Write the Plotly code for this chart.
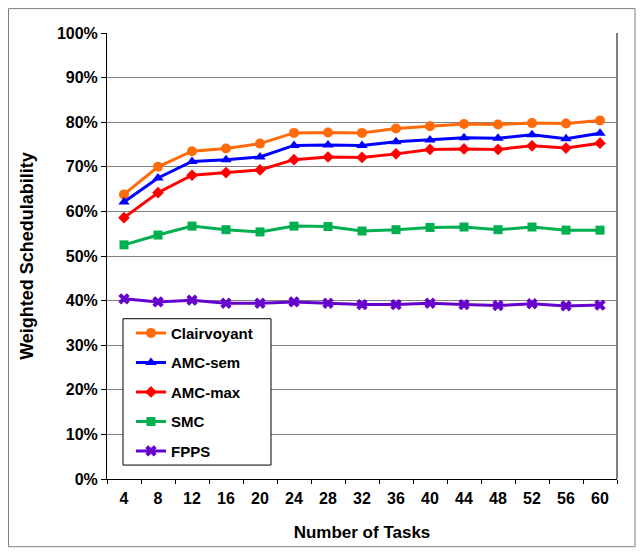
import plotly.graph_objects as go

tasks = ["4", "8", "12", "16", "20", "24", "28", "32", "36", "40", "44", "48", "52", "56", "60"]
clairvoyant = [63.8, 70.0, 73.5, 74.1, 75.2, 77.6, 77.7, 77.6, 78.6, 79.1, 79.6, 79.5, 79.8, 79.7, 80.4]
amc_sem = [62.1, 67.5, 71.2, 71.6, 72.2, 74.8, 74.9, 74.8, 75.6, 76.0, 76.5, 76.4, 77.2, 76.3, 77.5]
amc_max = [58.6, 64.2, 68.1, 68.7, 69.3, 71.6, 72.2, 72.1, 72.9, 73.9, 74.0, 73.9, 74.7, 74.2, 75.3]
smc = [52.5, 54.7, 56.7, 55.9, 55.4, 56.7, 56.6, 55.6, 55.9, 56.4, 56.5, 55.9, 56.5, 55.8, 55.8]
fpps = [40.4, 39.7, 40.1, 39.4, 39.4, 39.7, 39.4, 39.1, 39.1, 39.4, 39.1, 38.9, 39.3, 38.8, 39.0]
y_ticks = list(range(0, 101, 10))

series = [
    ("Clairvoyant", clairvoyant, "#FF6A0A", "circle", 10),
    ("AMC-sem", amc_sem, "#0000FF", "triangle-up", 10),
    ("AMC-max", amc_max, "#FF0000", "diamond", 9),
    ("SMC", smc, "#00B050", "square", 9),
    ("FPPS", fpps, "#6600CC", "x", 10),
]

fig = go.Figure()
for name, vals, color, sym, size in series:
    fig.add_trace(go.Scatter(
        x=tasks, y=vals, name=f"<b>{name}</b>", mode="lines+markers",
        line=dict(color=color, width=3),
        marker=dict(symbol=sym, size=size, color=color),
        legendgroup=name,
    ))

font = "Liberation Sans, Arial, sans-serif"
# page has an 8px body margin; figure kept inside the 644x558 window
W, H = 628, 542
L, T = 99, 25
PW, PH = 510, 448
fig.update_layout(
    width=W, height=H,
    margin=dict(l=L, r=W - L - PW, t=T, b=H - T - PH),
    paper_bgcolor="white", plot_bgcolor="white",
    font=dict(family=font, size=16, color="black"),
    showlegend=True,
    legend=dict(
        x=0.047, y=0.364, xanchor="left", yanchor="top",
        bgcolor="rgba(0,0,0,0)", borderwidth=0,
        font=dict(family=font, size=15, color="black"),
        traceorder="grouped", tracegroupgap=7,
        itemwidth=30,
    ),
    xaxis=dict(
        type="category", tickson="boundaries", range=[-0.5, len(tasks) - 0.5],
        tickvals=tasks, ticktext=[f"<b>{t}</b>" for t in tasks],
        ticks="outside", ticklen=4, tickcolor="black",
        ticklabelstandoff=5,
        showline=True, linecolor="black", linewidth=1,
        showgrid=False,
        tickfont=dict(family=font, size=16, color="black"),
        title=dict(text="<b>Number of Tasks</b>", font=dict(family=font, size=17), standoff=19),
    ),
    yaxis=dict(
        range=[0, 100], tickvals=y_ticks,
        ticktext=[f"<b>{v}%</b>" for v in y_ticks],
        ticks="outside", ticklen=5, tickcolor="black",
        showline=True, linecolor="black", linewidth=1,
        showgrid=True, gridcolor="#808080", gridwidth=1,
        zeroline=False,
        tickfont=dict(family=font, size=16, color="black"),
        title=dict(text="<b>Weighted Schedulability</b>", font=dict(family=font, size=18), standoff=18),
    ),
)

# right border of plot area
fig.add_shape(type="line", xref="paper", yref="paper", x0=1, x1=1, y0=0, y1=1,
              line=dict(color="#808080", width=2), layer="below")
# legend frame
fig.add_shape(type="rect", xref="paper", yref="paper",
              x0=(123 - 107) / PW, x1=(271 - 107) / PW,
              y0=(481 - 467) / PH, y1=(481 - 320) / PH,
              line=dict(color="black", width=1), fillcolor="white", layer="above")
# outer frame of the chart
fig.add_shape(type="rect", xref="paper", yref="paper",
              x0=(0.5 - L) / PW, x1=(W - 1 - L) / PW,
              y0=(T + PH - (H - 1)) / PH, y1=(T + PH - 0.5) / PH,
              line=dict(color="#7f7f7f", width=1), layer="below")

fig.write_html("out.html")
